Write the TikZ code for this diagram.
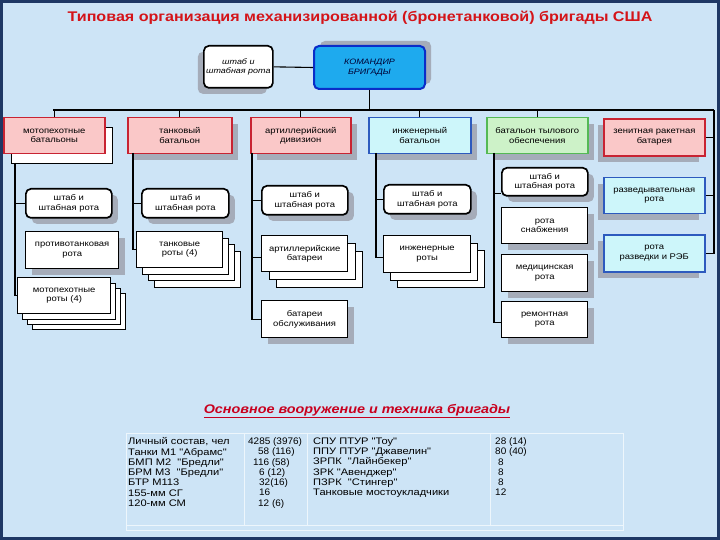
\documentclass[tikz,border=0pt]{standalone}
\usepackage{fontspec}
\setmainfont{Liberation Sans}
\newfontfamily\bxf[FakeStretch=1.15]{Liberation Sans}
\newfontfamily\tbf[FakeStretch=1.17]{Liberation Sans}
\newfontfamily\nbf[FakeStretch=1.05]{Liberation Sans}
\newfontfamily\ttl[FakeStretch=1.15]{Liberation Sans}
\usetikzlibrary{shadows,calc}
\definecolor{bgc}{RGB}{205,228,246}
\definecolor{framec}{RGB}{30,55,100}
\definecolor{shg}{RGB}{165,172,185}
\definecolor{pinkf}{RGB}{250,200,200}
\definecolor{redb}{RGB}{200,35,50}
\definecolor{cyanf}{RGB}{205,246,250}
\definecolor{blueb}{RGB}{45,90,190}
\definecolor{greenf}{RGB}{205,242,200}
\definecolor{greenb}{RGB}{85,185,85}
\definecolor{cmdf}{RGB}{30,170,238}
\definecolor{cmdb}{RGB}{10,45,200}
\definecolor{titred}{RGB}{212,20,25}
\definecolor{headred}{RGB}{200,0,30}
\newcommand\bx[7]{\node[#6, minimum width={(#4)-(#2)}, minimum height={(#5)-(#3)}, anchor=north west] (#1) at (#2,#3) {#7};}
\tikzset{
  box/.style={draw=black, fill=white, line width=1.3pt, align=center, inner sep=1pt,
    font=\bxf\fontsize{8.2}{9.6}\selectfont, text=black},
  rbox/.style={box, rounded corners=5pt, line width=1.7pt},
  shr/.style={drop shadow={shadow xshift=6pt, shadow yshift=-6pt, fill=shg, opacity=1}},
  shl/.style={drop shadow={shadow xshift=-6pt, shadow yshift=-6pt, fill=shg, opacity=1}},
  shu/.style={drop shadow={shadow xshift=6pt, shadow yshift=5pt, fill=shg, opacity=1}},
  pinkb/.style={box, fill=pinkf, draw=redb, line width=1.5pt},
  cyanb/.style={box, fill=cyanf, draw=blueb, line width=1.5pt},
  greenbx/.style={box, fill=greenf, draw=greenb, line width=1.5pt},
  conn/.style={draw=black, line width=1.1pt},
  tline/.style={draw=white!65!bgc, line width=1pt},
  tabtxt/.style={inner sep=0pt, align=left, font=\tbf\fontsize{9.5}{10.25}\selectfont, text=black},
  tabnum/.style={tabtxt, font=\nbf\fontsize{9.5}{10.25}\selectfont},
}
\begin{document}
\begin{tikzpicture}[x=1pt,y=-1pt]
\useasboundingbox (0,0) rectangle (720,540);
\fill[bgc] (0,0) rectangle (720,540);
\draw[framec, line width=3pt] (1.5,1.5) rectangle (718.5,538.5);

% title
\node (title) at (360,18) {\ttl\bfseries\fontsize{14}{16}\selectfont\color{titred}Типовая организация механизированной (бронетанковой) бригады США};

% top
\bx{hq}{203}{45}{272}{87}{rbox,shl,font=\bxf\itshape\fontsize{7.8}{9.2}\selectfont}{штаб и\\штабная рота}
\bx{cmd}{313}{45}{424}{88}{rbox,shu,fill=cmdf,draw=cmdb,line width=2pt,font=\bxf\itshape\fontsize{7.8}{9.2}\selectfont,text=black!80!blue}{КОМАНДИР\\БРИГАДЫ}

% row 1
\bx{mb}{3}{117}{104}{153}{pinkb,copy shadow={shadow xshift=8pt, shadow yshift=-10pt, draw=black, line width=1.3pt, fill=white}}{мотопехотные\\батальоны}
\bx{tb}{127}{117}{231}{153}{pinkb,shr}{танковый\\батальон}
\bx{ad}{250}{117}{350}{153}{pinkb,shr}{артиллерийский\\дивизион}
\bx{ib}{368}{117}{470}{153}{cyanb,shr}{инженерный\\батальон}
\bx{lb}{486}{117}{587}{153}{greenbx,shr}{батальон тылового\\обеспечения}
\bx{zrb}{603}{118}{704}{155}{pinkb,shl,line width=1.8pt}{зенитная ракетная\\батарея}
\bx{rz}{603}{177}{704}{213}{cyanb,shl}{разведывательная\\рота}
\bx{reb}{603}{234}{704}{271}{cyanb,shl}{рота\\разведки и РЭБ}

% column 1
\bx{c1h}{25}{188}{111}{217}{rbox,shr}{штаб и\\штабная рота}
\bx{c1at}{25}{231}{118}{268}{box,shr}{противотанковая\\рота}
\bx{c1mr}{17}{277}{110}{313}{box,
  copy shadow={shadow xshift=15pt, shadow yshift=-16pt, draw=black, line width=1.3pt},
  copy shadow={shadow xshift=10pt, shadow yshift=-11pt, draw=black, line width=1.3pt},
  copy shadow={shadow xshift=5pt, shadow yshift=-5.5pt, draw=black, line width=1.3pt}}{мотопехотные\\роты (4)}

% column 2
\bx{c2h}{141}{188}{228}{217}{rbox,shr}{штаб и\\штабная рота}
\bx{c2tr}{136}{231}{222}{267}{box,
  copy shadow={shadow xshift=18pt, shadow yshift=-20pt, draw=black, line width=1.3pt},
  copy shadow={shadow xshift=12pt, shadow yshift=-13pt, draw=black, line width=1.3pt},
  copy shadow={shadow xshift=6pt, shadow yshift=-6.5pt, draw=black, line width=1.3pt}}{танковые\\роты (4)}

% column 3
\bx{c3h}{261}{185}{347}{214}{rbox,shr}{штаб и\\штабная рота}
\bx{c3ab}{261}{235}{347}{271}{box,
  copy shadow={shadow xshift=15pt, shadow yshift=-16pt, draw=black, line width=1.3pt},
  copy shadow={shadow xshift=7.5pt, shadow yshift=-8pt, draw=black, line width=1.3pt}}{артиллерийские\\батареи}
\bx{c3bo}{261}{300}{347}{337}{box,shr}{батареи\\обслуживания}

% column 4
\bx{c4h}{383}{184}{470}{213}{rbox,shr}{штаб и\\штабная рота}
\bx{c4ir}{383}{235}{470}{272}{box,
  copy shadow={shadow xshift=14pt, shadow yshift=-15pt, draw=black, line width=1.3pt},
  copy shadow={shadow xshift=7pt, shadow yshift=-7.5pt, draw=black, line width=1.3pt}}{инженерные\\роты}

% column 5
\bx{c5h}{501}{167}{587}{195}{rbox,shr}{штаб и\\штабная рота}
\bx{c5rs}{501}{207}{587}{243}{box,shr}{рота\\снабжения}
\bx{c5med}{501}{254}{587}{291}{box,shr}{медицинская\\рота}
\bx{c5rem}{501}{301}{587}{337}{box,shr}{ремонтная\\рота}

% connectors
\coordinate (busL) at (53,110);
\coordinate (busR) at (714,110);
\draw[conn] (hq.east) -- (cmd.west);
\draw[conn] (cmd.south) -- (cmd.south |- busL);
\draw[conn] (busL) -- (busR);
\foreach \n in {mb,tb,ad,ib,lb} \draw[conn] (\n.north) -- (\n.north |- busL);
\draw[conn] (busR) |- (reb.east);
\draw[conn] (zrb.east) -- (zrb.east -| busR);
\draw[conn] (rz.east) -- (rz.east -| busR);

\coordinate (s1) at (15,163);
\draw[conn] (s1) -- (s1 |- c1mr.west) -- (c1mr.west);
\draw[conn] (s1 |- c1h.west) -- (c1h.west);

\coordinate (s2) at (133,153);
\draw[conn] (s2) |- (c2tr.west);
\draw[conn] (s2 |- c2h.west) -- (c2h.west);

\coordinate (s3) at (252,153);
\draw[conn] (s3) |- (c3bo.west);
\draw[conn] (s3 |- c3h.west) -- (c3h.west);
\draw[conn] ($(s3 |- c3ab.west)+(0,4)$) -- ($(c3ab.west)+(0,4)$);

\coordinate (s4) at (376,153);
\draw[conn] (s4) |- ($(c4ir.west)+(0,3.5)$);
\draw[conn] (s4 |- c4h.west) -- (c4h.west);

\coordinate (s5) at (494,153);
\draw[conn] (s5) |- ($(c5rem.west)+(0,3)$);
\draw[conn] ($(s5 |- c5h.south west)+(0,-3)$) -- ($(c5h.south west)+(0,-3)$);

% heading
\node (head) at (357,411) {\ttl\bfseries\itshape\fontsize{12.5}{15}\selectfont\color{headred}\underline{Основное вооружение и техника бригады}};

% table
\draw[tline] (126,433) rectangle (623,530);
\draw[tline] (126,525) -- (623,525);
\draw[tline] (244,433) -- (244,525);
\draw[tline] (307,433) -- (307,525);
\draw[tline] (490,433) -- (490,525);

\node[tabtxt, anchor=north west] (t1) at (128,437.5) {Личный состав, чел\\Танки М1 "Абрамс"\\БМП М2 \ "Бредли"\\БРМ М3 \ "Бредли"\\БТР М113\\155-мм СГ\\120-мм СМ};
\node[tabtxt, anchor=north west] (t3) at (313,437.5) {СПУ ПТУР "Тоу"\\ППУ ПТУР "Джавелин"\\ЗРПК \ "Лайнбекер"\\ЗРК "Авенджер"\\ПЗРК \ "Стингер"\\Танковые мостоукладчики};
\foreach \v/\x [count=\i from 0] in {4285 (3976)/248, 58 (116)/258, 116 (58)/253, 6 (12)/259, 32(16)/259, 16/259, 12 (6)/258}
  \node[tabnum, anchor=base west] (t2-\i) at (\x,{444.5+10.25*\i}) {\v};
\foreach \v/\x [count=\i from 0] in {28 (14)/495, 80 (40)/495, 8/498, 8/498, 8/498, 12/495}
  \node[tabnum, anchor=base west] (t4-\i) at (\x,{444.5+10.25*\i}) {\v};
\end{tikzpicture}
\end{document}
